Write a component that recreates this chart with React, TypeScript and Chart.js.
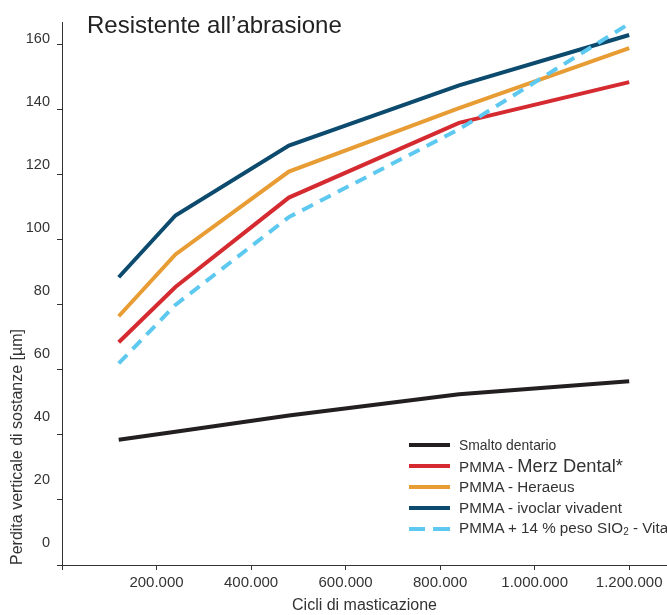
import React, { useEffect, useRef } from 'react';
import { Chart, registerables } from 'chart.js';

Chart.register(...registerables);

// ---- data ----
const cycles = [120000, 240000, 480000, 840000, 1200000];
const smalto = [38.5, 41, 46, 52.5, 56.5];
const merz = [68.5, 85.5, 113, 136, 148.5];
const heraeus = [76.5, 95.5, 121, 140.5, 159];
const ivoclar = [88.5, 107.5, 129, 147.5, 163];
const vita = [62, 80, 107, 134, 166.5];

const xTicks = [0, 200000, 400000, 600000, 800000, 1000000, 1200000];
const yTicks = [0, 20, 40, 60, 80, 100, 120, 140, 160];

const seriesNames = [
  'Smalto dentario',
  'PMMA - Merz Dental*',
  'PMMA - Heraeus',
  'PMMA - ivoclar vivadent',
  'PMMA + 14 % peso SIO2 - Vita',
];
const seriesColors = ['#231f20', '#d42a30', '#e89c34', '#0c4a6e', '#5ec9f0'];
const seriesValues = [smalto, merz, heraeus, ivoclar, vita];
const seriesDashed = [false, false, false, false, true];
const drawOrder = [0, 4, 1, 2, 3];

const chartTitle = 'Resistente all\u2019abrasione';
const xTitle = 'Cicli di masticazione';
const yTitle = 'Perdita verticale di sostanze [\u00b5m]';

const FONT = "'Liberation Sans', Arial, Helvetica, sans-serif";
const TEXT = '#333333';

function fmtThousands(v: number): string {
  return String(Math.round(v)).replace(/\B(?=(\d{3})+(?!\d))/g, '.');
}

const titlePlugin = {
  id: 'mainTitle',
  afterDraw(chart: any) {
    const ctx = chart.ctx;
    ctx.save();
    ctx.font = `24px ${FONT}`;
    ctx.fillStyle = '#222222';
    ctx.textBaseline = 'alphabetic';
    ctx.textAlign = 'left';
    ctx.fillText(chartTitle, 87, 33);
    ctx.restore();
  },
};

function LegendLabel({ i }: { i: number }) {
  if (i === 1) {
    return (
      <span style={{ fontSize: 15.2 }}>
        PMMA - <span style={{ fontSize: 18.3 }}>Merz Dental*</span>
      </span>
    );
  }
  if (i === 4) {
    return (
      <span style={{ fontSize: 15.2 }}>
        PMMA + 14 % peso SIO<sub style={{ fontSize: 10, verticalAlign: 'baseline', position: 'relative', top: 2 }}>2</sub>
        {' '}- Vita
      </span>
    );
  }
  if (i === 0) return <span style={{ fontSize: 13.9 }}>{seriesNames[i]}</span>;
  return <span style={{ fontSize: 15.2 }}>{seriesNames[i]}</span>;
}

export default function App() {
  const ref = useRef<HTMLCanvasElement | null>(null);

  useEffect(() => {
    if (!ref.current) return;
    const datasets = drawOrder.map((i) => ({
      label: seriesNames[i],
      data: cycles.map((x, k) => ({ x, y: seriesValues[i][k] })),
      borderColor: seriesColors[i],
      backgroundColor: seriesColors[i],
      borderWidth: 4,
      borderDash: seriesDashed[i] ? [12, 8] : [],
      pointRadius: 0,
      tension: 0,
      fill: false,
      xAxisID: 'x',
      yAxisID: 'y',
    }));

    const chart = new Chart(ref.current, {
      type: 'line',
      data: { datasets },
      plugins: [titlePlugin],
      options: {
        animation: false,
        responsive: false,
        devicePixelRatio: 1,
        layout: { padding: { top: 22, left: 0, right: 0, bottom: 0 } },
        plugins: {
          legend: { display: false },
          tooltip: { enabled: false },
          title: { display: false },
        },
        scales: {
          x: {
            type: 'linear',
            position: 'bottom',
            min: 0,
            max: 1280000,
            afterBuildTicks: (s: any) => {
              s.ticks = xTicks.map((v) => ({ value: v }));
            },
            afterFit: (s: any) => {
              s.height = 50;
            },
            ticks: {
              callback: (v: any) => (Number(v) === 0 ? '' : fmtThousands(Number(v))),
              font: { family: FONT, size: 15 },
              color: TEXT,
              padding: 4,
              maxRotation: 0,
              autoSkip: false,
            },
            grid: { drawOnChartArea: false, drawTicks: true, tickLength: 5, color: TEXT },
            border: { color: TEXT, width: 1 },
            title: {
              display: true,
              text: xTitle,
              font: { family: FONT, size: 16 },
              color: TEXT,
              padding: { top: 0, bottom: 0 },
            },
          },
          y: {
            type: 'linear',
            position: 'left',
            weight: 0,
            min: 0,
            max: 167,
            afterBuildTicks: (s: any) => {
              s.ticks = yTicks.map((v) => ({ value: v }));
            },
            afterFit: (s: any) => {
              s.width = 5;
            },
            ticks: { display: false },
            grid: { drawOnChartArea: false, drawTicks: true, tickLength: 5, color: TEXT },
            border: { color: TEXT, width: 1 },
          },
          yl: {
            type: 'linear',
            position: 'left',
            weight: 10,
            min: -6.98,
            max: 165.4,
            afterBuildTicks: (s: any) => {
              s.ticks = yTicks.map((v) => ({ value: v }));
            },
            afterFit: (s: any) => {
              s.width = 57;
            },
            ticks: {
              font: { family: FONT, size: 14.5 },
              color: TEXT,
              padding: 7,
            },
            grid: { display: false, drawTicks: false },
            border: { display: false },
            title: {
              display: true,
              text: yTitle,
              align: 'start',
              font: { family: FONT, size: 16 },
              color: TEXT,
              padding: { top: 8, bottom: 0 },
            },
          },
        },
      },
    } as any);
    return () => chart.destroy();
  }, []);

  return (
    <div style={{ position: 'absolute', left: 0, top: 0, width: 667, height: 615, background: '#fff' }}>
      <canvas ref={ref} width={667} height={615} style={{ display: 'block' }} />
      <div
        style={{
          position: 'absolute',
          left: 409,
          top: 434,
          fontFamily: FONT,
          color: TEXT,
        }}
      >
        {seriesNames.map((_, i) => (
          <div key={i} style={{ display: 'flex', alignItems: 'center', height: 21, whiteSpace: 'nowrap' }}>
            {seriesDashed[i] ? (
              <div style={{ width: 41, height: 4, display: 'flex', justifyContent: 'space-between' }}>
                <div style={{ width: 16, height: 4, background: seriesColors[i] }} />
                <div style={{ width: 17, height: 4, background: seriesColors[i] }} />
              </div>
            ) : (
              <div style={{ width: 41, height: 4, background: seriesColors[i] }} />
            )}
            <div style={{ marginLeft: 9, lineHeight: '21px' }}>
              <LegendLabel i={i} />
            </div>
          </div>
        ))}
      </div>
    </div>
  );
}
